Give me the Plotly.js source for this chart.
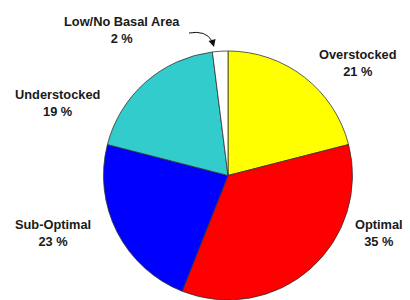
<!DOCTYPE html>
<html>
<head>
<meta charset="utf-8">
<script src="https://cdn.plot.ly/plotly-3.0.1.min.js"></script>
<style>html,body{margin:0;padding:0;background:#fff}#chart{width:410px;height:300px}</style>
</head>
<body>
<div id="chart"></div>
<script>
const categories = ["Overstocked", "Optimal", "Sub-Optimal", "Understocked", "Low/No Basal Area"];
const values = [21, 35, 23, 19, 2];
const colors = ["#FFFF00", "#FF0000", "#0000FF", "#33CCCC", "#FFFFFF"];
const labelText = ["Overstocked<br>21 %", "Optimal<br>35 %", "Sub-Optimal<br>23 %", "Understocked<br>19 %", "Low/No Basal Area<br>2 %"];
const labelPos = [[358, 63], [379, 233], [53, 233], [58, 103], [122, 30]];

const W = 410, H = 300;
const px = x => x / W, py = y => 1 - y / H;

const annotations = categories.map((c, i) => ({
  text: labelText[i], xref: "paper", yref: "paper",
  x: px(labelPos[i][0]), y: py(labelPos[i][1]),
  xanchor: "center", yanchor: "middle", showarrow: false,
  font: {family: "Liberation Sans, Arial, sans-serif", size: 12.8, color: "#1a1a1a", weight: "bold"}
}));
annotations.push({
  text: "", xref: "paper", yref: "paper", axref: "pixel", ayref: "pixel",
  x: px(214), y: py(47), ax: -2, ay: -7,
  showarrow: true, arrowhead: 2, arrowsize: 1.2, arrowwidth: 1.2, arrowcolor: "#111", standoff: 0
});

const data = [{
  type: "pie", labels: categories, values: values, sort: false,
  direction: "clockwise", rotation: 0, textinfo: "none", hoverinfo: "label+percent",
  marker: {colors: colors, line: {color: "#333", width: 0.8}},
  domain: {x: [px(103), px(353)], y: [0, py(51)]},
  showlegend: false
}];

const layout = {
  width: W, height: H, margin: {l: 0, r: 0, t: 0, b: 0},
  paper_bgcolor: "#fff", plot_bgcolor: "#fff",
  annotations: annotations,
  shapes: [{
    type: "path", xref: "paper", yref: "paper",
    path: `M ${px(189)},${py(33)} Q ${px(206)},${py(30)} ${px(212)},${py(41)}`,
    line: {color: "#111", width: 1}
  }]
};
Plotly.newPlot("chart", data, layout, {staticPlot: true});
</script>
</body>
</html>
